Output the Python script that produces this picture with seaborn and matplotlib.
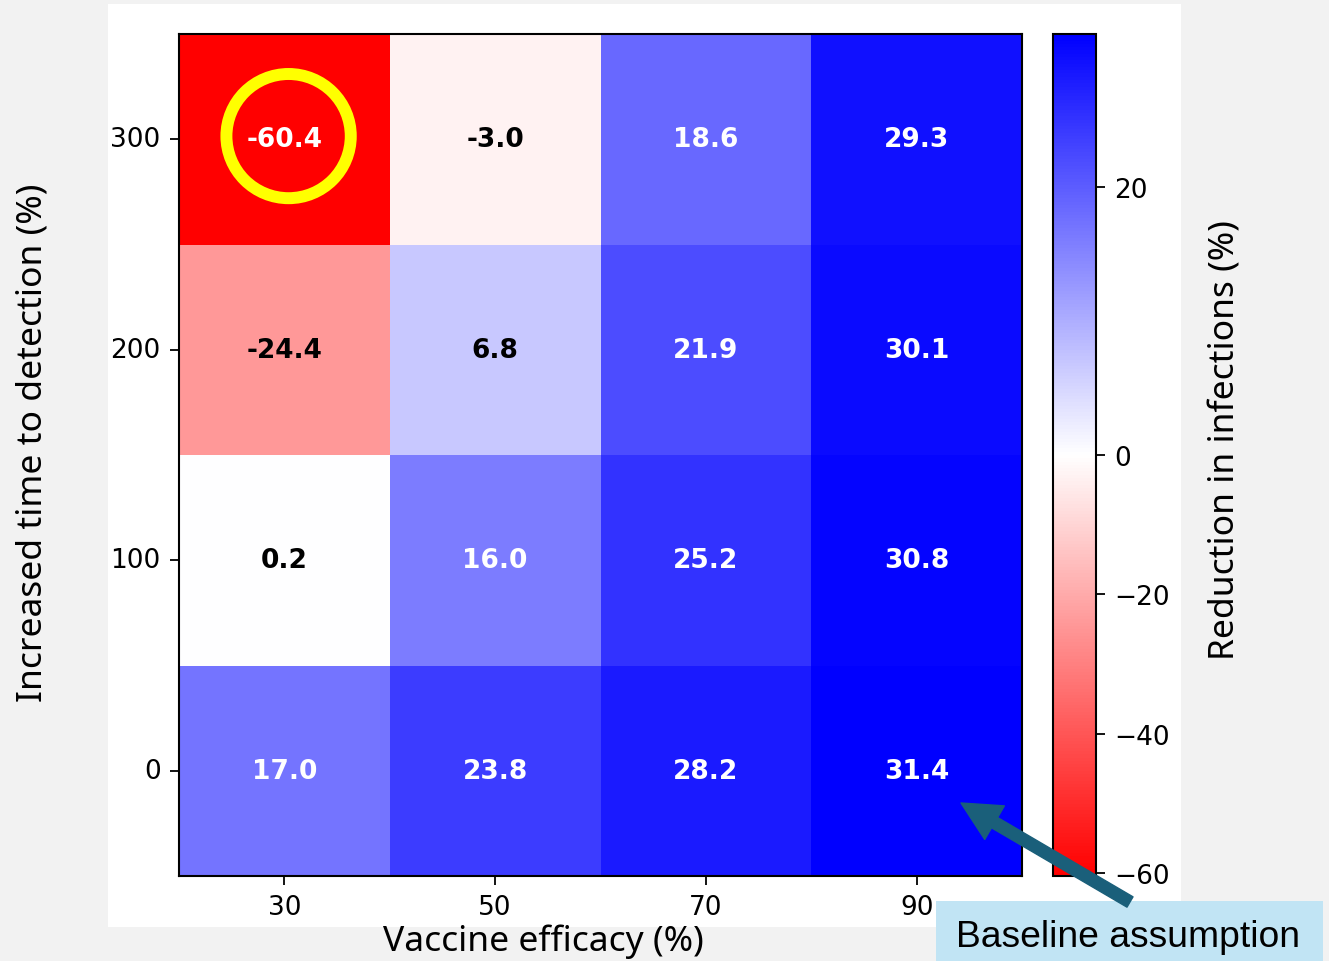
import numpy as np
import pandas as pd
import seaborn as sns
import matplotlib.pyplot as plt
from matplotlib.colors import TwoSlopeNorm, to_rgb
from matplotlib.patches import Rectangle, Circle, FancyArrowPatch

# Scenario grid: vaccine efficacy (columns) vs. increased time to detection (rows)
efficacy = [30, 50, 70, 90]
detection_delay = [300, 200, 100, 0]
reduction_300 = [-60.4, -3.0, 18.6, 29.3]
reduction_200 = [-24.4, 6.8, 21.9, 30.1]
reduction_100 = [0.2, 16.0, 25.2, 30.8]
reduction_0 = [17.0, 23.8, 28.2, 31.4]
cbar_ticks = [-60, -40, -20, 0, 20]

df = pd.DataFrame([reduction_300, reduction_200, reduction_100, reduction_0],
                  index=detection_delay, columns=efficacy)

W, H = 1329, 962
fig = plt.figure(figsize=(W / 100, H / 100), dpi=100, facecolor="#f2f2f2")

# white panel behind the chart
fig.add_artist(Rectangle((108 / W, 1 - 928 / H), (1181 - 108) / W, (928 - 5) / H,
                         transform=fig.transFigure, facecolor="white",
                         edgecolor="none", zorder=-5))

ax = fig.add_axes([179 / W, 1 - 877 / H, (1022 - 179) / W, (877 - 35) / H])
cax = fig.add_axes([1053 / W, 1 - 877 / H, (1096 - 1053) / W, (877 - 35) / H])

norm = TwoSlopeNorm(vmin=df.values.min(), vcenter=0, vmax=df.values.max())
sns.heatmap(df, ax=ax, cbar_ax=cax, cmap="bwr_r", norm=norm,
            annot=True, fmt=".1f",
            annot_kws={"fontsize": 19, "fontweight": "bold"})

# pure black for annotations on light cells
for t in ax.texts:
    if to_rgb(t.get_color()) != (1.0, 1.0, 1.0):
        t.set_color("black")

for sp in ax.spines.values():
    sp.set_visible(True)
    sp.set_linewidth(1.5)
    sp.set_color("black")
ax.tick_params(length=6.6, width=1.3, pad=6.6, labelsize=19, colors="black")
ax.tick_params(axis="y", labelrotation=0)
ax.set_xlabel("")
ax.set_ylabel("")

cbar = ax.collections[0].colorbar
cbar.set_ticks(cbar_ticks)
cbar.outline.set_linewidth(1.5)
cbar.outline.set_edgecolor("black")
cax.tick_params(length=6.6, width=1.3, pad=6.6, labelsize=19, colors="black")

# highlight the worst scenario
r, c = np.unravel_index(np.argmin(df.values), df.shape)
ax.add_patch(Circle((c + 0.52, r + 0.485), 0.295, fill=False,
                    edgecolor="#ffff00", linewidth=8.6, zorder=5))

label_font = ["Noto Sans", "DejaVu Sans"]
fig.text(543 / W, 1 - 942 / H, "Vaccine efficacy (%)", ha="center", va="center",
         fontsize=25.5, family=label_font, color="black")
fig.text(33 / W, 1 - 443 / H, "Increased time to detection (%)", ha="center",
         va="center", rotation=90, fontsize=25.5, family=label_font, color="black")
fig.text(1226 / W, 1 - 440 / H, "Reduction in infections (%)", ha="center",
         va="center", rotation=90, fontsize=25.5, family=label_font, color="black")

# callout box and arrow
fig.add_artist(Rectangle((936 / W, 0), (1323 - 936) / W, (962 - 902) / H,
                         transform=fig.transFigure, facecolor="#c1e4f4",
                         edgecolor="none", zorder=6))
fig.text(1128 / W, 1 - 938 / H, "Baseline assumption", ha="center", va="center",
         fontsize=26.8, family=["Liberation Sans", "DejaVu Sans"], color="black",
         zorder=7)
fig.add_artist(FancyArrowPatch((1130 / W, 1 - 903 / H), (961 / W, 1 - 804 / H),
                               transform=fig.transFigure,
                               arrowstyle="simple,head_width=2.8,head_length=2.8,tail_width=0.86",
                               mutation_scale=10, color="#1a5f7a",
                               shrinkA=0, shrinkB=0, zorder=8))

fig.savefig("out.png", dpi=100, facecolor=fig.get_facecolor())
